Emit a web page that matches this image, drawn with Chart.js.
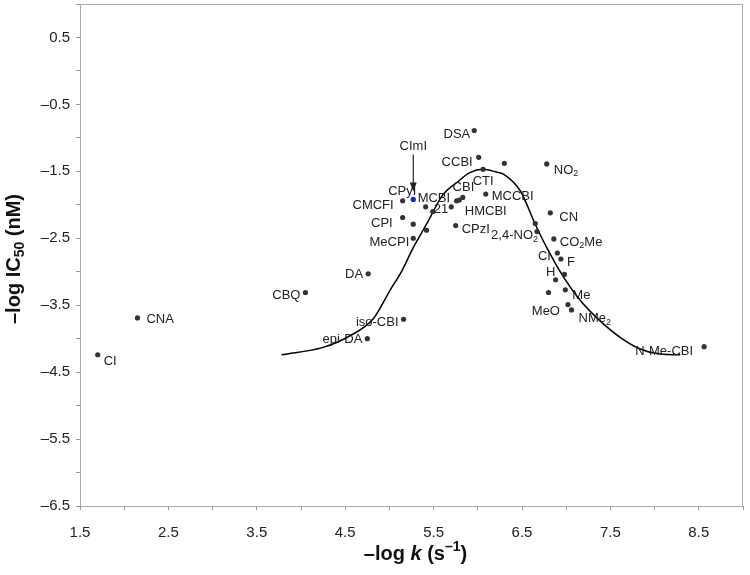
<!DOCTYPE html>
<html>
<head>
<meta charset="utf-8">
<script src="https://cdn.jsdelivr.net/npm/chart.js@4.4.1/dist/chart.umd.min.js"></script>
<style>
  html, body { margin: 0; padding: 0; background: #fff; }
</style>
</head>
<body>
<canvas id="myChart" width="750" height="575"></canvas>
<script>
// compound names ('' = unlabelled point), "_x" marks a subscript
const names = ['CI', 'CNA', 'CBQ', 'DA', 'iso-CBI', 'epi-DA', 'DSA', 'CCBI', '', 'CTI',
    'CPyI', 'CMCFI', 'MCBI', '', '21', 'CBI', '', 'HMCBI', 'CPI', '',
    '', 'MeCPI', 'CPzI', 'MCCBI', 'NO_2', 'CN', '', '2,4-NO_2', 'CO_2Me', 'Cl',
    'F', 'H', '', 'Me', '', 'MeO', 'NMe_2', 'N-Me-CBI'];
// -log k (s-1)
const logK = [1.70, 2.15, 4.05, 4.76, 5.16, 4.75, 5.96, 6.01, 6.30, 6.06,
    5.27, 5.15, 5.41, 5.49, 5.70, 5.76, 5.79, 5.83, 5.15, 5.27,
    5.42, 5.27, 5.75, 6.09, 6.78, 6.82, 6.65, 6.67, 6.86, 6.90,
    6.94, 6.98, 6.88, 6.99, 6.80, 7.02, 7.06, 8.56];
// -log IC50 (nM)
const logIC50 = [-4.24, -3.69, -3.31, -3.03, -3.71, -4.00, -0.89, -1.29, -1.38, -1.47,
    -1.92, -1.94, -2.03, -2.10, -2.03, -1.94, -1.93, -1.89, -2.19, -2.29,
    -2.38, -2.50, -2.31, -1.84, -1.39, -2.12, -2.28, -2.40, -2.51, -2.72,
    -2.81, -3.04, -3.12, -3.27, -3.31, -3.49, -3.57, -4.12];

// fitted curve
const curveX = [3.78, 4.25, 4.55, 4.82, 5.01, 5.14, 5.27, 5.42, 5.61, 5.76, 5.91, 6.06,
    6.21, 6.29, 6.48, 6.65, 6.78, 6.97, 7.16, 7.38, 7.61, 7.83, 8.06, 8.29];
const curveY = [-4.24, -4.13, -3.96, -3.70, -3.27, -2.99, -2.64, -2.29, -1.84, -1.67, -1.52, -1.47,
    -1.51, -1.54, -1.79, -2.29, -2.64, -3.08, -3.43, -3.73, -3.98, -4.15, -4.23, -4.24];

const highlight = 'CPyI';     // drawn in blue, with the CImI arrow
const arrowText = 'CImI';

// label placement: [dx, dy, align] in pixels from each point
const labelPlace = [[6, 7, 'left'], [9, 2, 'left'], [-5, 3, 'right'], [-5, 1, 'right'], [-5, 3, 'right'],
    [-5, 1, 'right'], [-4, 4, 'right'], [-6, 5, 'right'], null, [0, 12, 'center'],
    [-11, -8, 'center'], [-9, 5, 'right'], [-8, -8, 'left'], null, [-3, 3, 'right'],
    [-4, -13, 'left'], null, [2, 14, 'left'], [-10, 6, 'right'], null,
    null, [-4, 4, 'right'], [6, 4, 'left'], [6, 2, 'left'], [7, 6, 'left'],
    [9, 5, 'left'], null, [1, 4, 'right'], [6, 3, 'left'], [-7, 3, 'right'],
    [6, 3, 'left'], [-9, -2, 'right'], null, [7, 6, 'left'], null,
    [-8, 7, 'right'], [7, 9, 'left'], [-11, 5, 'right']];

const FONT = '"Liberation Sans", Arial, sans-serif';

// split "NO_2" into plain / subscript pieces
function parseLabel(str) {
    const parts = [];
    let buf = '';
    for (let i = 0; i < str.length; i++) {
        if (str[i] === '_' && i + 1 < str.length) {
            if (buf) parts.push([buf, '']);
            buf = '';
            parts.push([str[i + 1], 'sub']);
            i++;
        } else {
            buf += str[i];
        }
    }
    if (buf) parts.push([buf, '']);
    return parts;
}

// draws pieces: mode '' | 'sub' | 'sup' | 'it'
function drawRich(ctx, parts, x, y, align, size, weight) {
    const fontFor = m => {
        const s = (m === 'sub' || m === 'sup') ? Math.round(size * 0.7) : size;
        return (m === 'it' ? 'italic ' : '') + weight + ' ' + s + 'px ' + FONT;
    };
    let total = 0;
    parts.forEach(p => { ctx.font = fontFor(p[1]); total += ctx.measureText(p[0]).width; });
    let cx = align === 'left' ? x : align === 'right' ? x - total : x - total / 2;
    ctx.textAlign = 'left';
    ctx.textBaseline = 'middle';
    parts.forEach(p => {
        ctx.font = fontFor(p[1]);
        const dy = p[1] === 'sub' ? size * 0.3 : p[1] === 'sup' ? -size * 0.35 : 0;
        ctx.fillText(p[0], cx, y + dy);
        cx += ctx.measureText(p[0]).width;
    });
}

const decorations = {
    id: 'decorations',
    afterDatasetsDraw(chart) {
        const ctx = chart.ctx;
        const xs = chart.scales.x, ys = chart.scales.y;
        const area = chart.chartArea;
        ctx.save();
        // frame around the plot
        ctx.strokeStyle = '#aaa';
        ctx.lineWidth = 1;
        ctx.strokeRect(area.left + 0.5, area.top + 0.5, area.right - area.left - 1, area.bottom - area.top);

        // point labels
        ctx.fillStyle = '#222';
        names.forEach((n, i) => {
            const px = xs.getPixelForValue(logK[i]);
            const py = ys.getPixelForValue(logIC50[i]);
            if (n === highlight) {
                // CImI arrow pointing at the blue point
                ctx.strokeStyle = '#222';
                ctx.lineWidth = 1.2;
                ctx.beginPath();
                ctx.moveTo(px, py - 45);
                ctx.lineTo(px, py - 10);
                ctx.stroke();
                ctx.beginPath();
                ctx.moveTo(px - 3.5, py - 17);
                ctx.lineTo(px, py - 8);
                ctx.lineTo(px + 3.5, py - 17);
                ctx.closePath();
                ctx.fill();
                drawRich(ctx, [[arrowText, '']], px, py - 53, 'center', 13, 'normal');
            }
            const pl = labelPlace[i];
            if (!n || !pl) return;
            drawRich(ctx, parseLabel(n), px + pl[0], py + pl[1], pl[2], 13, 'normal');
        });

        // axis titles
        ctx.fillStyle = '#111';
        drawRich(ctx, [['\u2013log ', ''], ['k', 'it'], [' (s', ''], ['\u20131', 'sup'], [')', '']],
            (area.left + area.right) / 2 + 4, 554, 'center', 20, 'bold');
        ctx.translate(14, (area.top + area.bottom) / 2 + 4);
        ctx.rotate(-Math.PI / 2);
        drawRich(ctx, [['\u2013log IC', ''], ['50', 'sub'], [' (nM)', '']], 0, 0, 'center', 20, 'bold');
        ctx.restore();
    }
};

const ctx = document.getElementById('myChart').getContext('2d');
const myChart = new Chart(ctx, {
    type: 'scatter',
    data: {
        datasets: [{
            label: 'compounds',
            data: logK.map((x, i) => ({ x: x, y: logIC50[i] })),
            pointRadius: 2.6,
            pointBorderWidth: 0,
            pointBackgroundColor: names.map(n => n === highlight ? '#1c1ce0' : '#333'),
            order: 0
        }, {
            label: 'fit',
            data: curveX.map((x, i) => ({ x: x, y: curveY[i] })),
            showLine: true,
            pointRadius: 0,
            borderColor: '#000',
            borderWidth: 1.5,
            cubicInterpolationMode: 'monotone',
            order: 1
        }]
    },
    options: {
        responsive: false,
        animation: false,
        layout: { padding: { top: 3, right: 7, left: 0, bottom: 0 } },
        plugins: {
            legend: { display: false },
            tooltip: { enabled: false }
        },
        scales: {
            x: {
                type: 'linear',
                min: 1.5,
                max: 9.0,
                afterFit: s => { s.height = 69; s.paddingLeft = 0; s.paddingRight = 0; },
                border: { display: true, color: '#999' },
                grid: { drawOnChartArea: false, drawTicks: true, tickLength: 4, color: '#999' },
                ticks: {
                    stepSize: 0.5,
                    autoSkip: false,
                    maxRotation: 0,
                    padding: 14,
                    color: '#222',
                    font: { family: FONT, size: 15 },
                    callback: v => Math.abs((v - 1.5) - Math.round(v - 1.5)) < 1e-6 && v < 8.9 ? v.toFixed(1) : ''
                }
            },
            y: {
                type: 'linear',
                min: -6.5,
                max: 1.0,
                afterFit: s => { s.width = 80; s.paddingTop = 0; s.paddingBottom = 0; },
                border: { display: true, color: '#999' },
                grid: { drawOnChartArea: false, drawTicks: true, tickLength: 4, color: '#999' },
                ticks: {
                    stepSize: 0.5,
                    autoSkip: false,
                    padding: 6,
                    color: '#222',
                    font: { family: FONT, size: 15 },
                    callback: v => Math.abs((v + 0.5) - Math.round(v + 0.5)) < 1e-6 && v < 0.9 ? v.toFixed(1).replace('-', '\u2013') : ''
                }
            }
        }
    },
    plugins: [decorations]
});
</script>
</body>
</html>
